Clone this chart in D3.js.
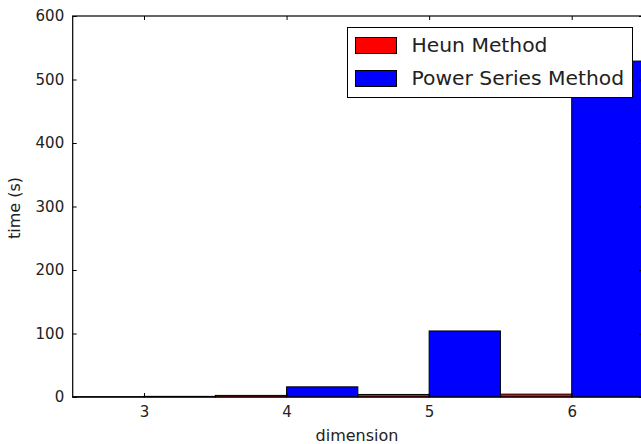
<!DOCTYPE html>
<html>
<head>
<meta charset="utf-8">
<script src="https://cdn.jsdelivr.net/npm/d3@7"></script>
<style>
  body { margin: 0; background: #fff; }
  svg { display: block; font-family: "DejaVu Sans", sans-serif; }
</style>
</head>
<body>
<svg width="641" height="444"></svg>
<script>
const dimensions = [3, 4, 5, 6];
const heunTimes = [0.5, 2.5, 4, 4.5];
const powerTimes = [1, 16, 104, 529];
const yTicks = [0, 100, 200, 300, 400, 500, 600];
const seriesNames = ['Heun Method', 'Power Series Method'];
const seriesColors = ['#ff0000', '#0000ff'];

const svg = d3.select('svg');
const mLeft = 72.7, mRight = 643, mTop = 16, mBottom = 397;

const x = d3.scaleLinear().domain([2.5, 6.5]).range([mLeft, mRight]);
const y = d3.scaleLinear().domain([0, 600]).range([mBottom, mTop]);

const barW = 0.5;

// bars: Heun left of the tick, power series right of it
const series = [heunTimes, powerTimes];
series.forEach((vals, s) => {
    svg.append('g').selectAll('rect')
        .data(dimensions.map((d, i) => ({d: d, v: vals[i]})))
        .join('rect')
        .attr('x', d => x(d.d - barW + s * barW))
        .attr('width', d => x(d.d + barW) - x(d.d))
        .attr('y', d => y(d.v))
        .attr('height', d => y(0) - y(d.v))
        .attr('fill', seriesColors[s])
        .attr('stroke', '#000')
        .attr('stroke-width', 1);
});

// axes (classic style, ticks inward on all sides)
const xAxis = d3.axisBottom(x).tickValues(dimensions).tickFormat(d3.format('d'))
    .tickSize(-4).tickPadding(9.5);
const xTop = d3.axisTop(x).tickValues(dimensions).tickSize(-4).tickFormat('');
const yAxis = d3.axisLeft(y).tickValues(yTicks).tickSize(-4).tickPadding(8.5);
const yRight = d3.axisRight(y).tickValues(yTicks).tickSize(-4).tickFormat('');

function style(g) {
    g.select('.domain').remove();
    g.selectAll('line').attr('stroke', '#000');
    g.selectAll('text').attr('fill', '#222').style('font-size', '15px')
        .style('font-family', '"DejaVu Sans", sans-serif');
}

svg.append('g').attr('transform', `translate(0,${mBottom})`).call(xAxis).call(style);
svg.append('g').attr('transform', `translate(0,${mTop})`).call(xTop).call(style);
svg.append('g').attr('transform', `translate(${mLeft},0)`).call(yAxis).call(style);
svg.append('g').attr('transform', `translate(${mRight},0)`).call(yRight).call(style);

// frame
svg.append('rect')
    .attr('x', mLeft).attr('y', mTop)
    .attr('width', mRight - mLeft).attr('height', mBottom - mTop)
    .attr('fill', 'none').attr('stroke', '#000').attr('stroke-width', 1.2);

// labels
svg.append('text').attr('x', 357).attr('y', 441)
    .attr('text-anchor', 'middle').attr('fill', '#222')
    .style('font-size', '16px').text('dimension');
svg.append('text')
    .attr('transform', 'translate(20,208) rotate(-90)')
    .attr('text-anchor', 'middle').attr('fill', '#222')
    .style('font-size', '16px').text('time (s)');

// legend
const lg = svg.append('g').attr('transform', 'translate(347.5,27.5)');
lg.append('rect').attr('width', 285).attr('height', 70)
    .attr('fill', '#fff').attr('stroke', '#000').attr('stroke-width', 1);
seriesNames.forEach((name, i) => {
    lg.append('rect').attr('x', 8).attr('y', 10 + i * 33)
        .attr('width', 41).attr('height', 16)
        .attr('fill', seriesColors[i]).attr('stroke', '#000');
    lg.append('text').attr('x', 64).attr('y', 24.5 + i * 32.5)
        .attr('fill', '#222').style('font-size', '20.3px').text(name);
});
</script>
</body>
</html>
